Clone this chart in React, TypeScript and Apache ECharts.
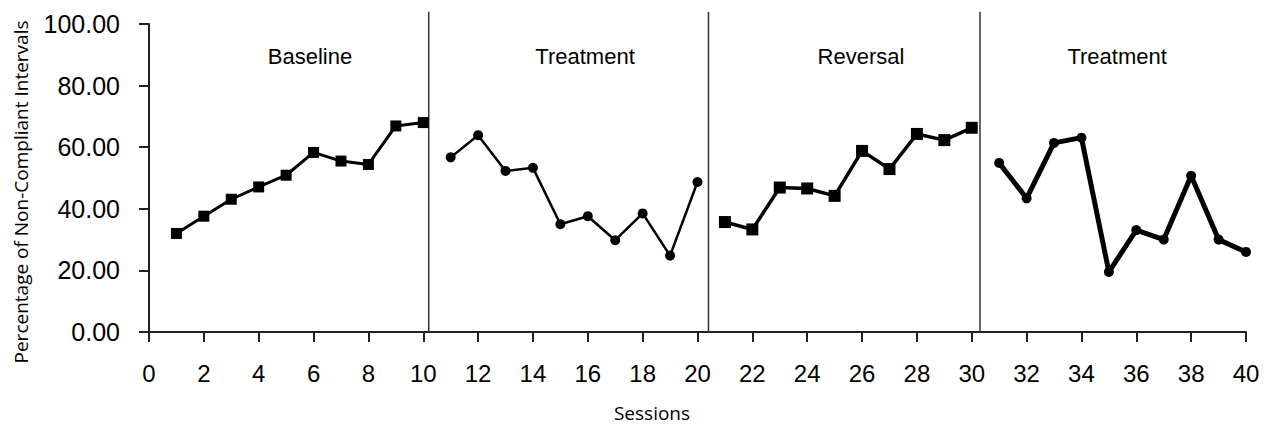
import React, { useEffect, useRef } from "react";
import * as echarts from "echarts";

const baselineSessions = [1, 2, 3, 4, 5, 6, 7, 8, 9, 10];
const baselineValues = [32.0, 37.6, 43.1, 47.1, 50.9, 58.3, 55.5, 54.4, 66.9, 68.0];
const treatment1Sessions = [11, 12, 13, 14, 15, 16, 17, 18, 19, 20];
const treatment1Values = [56.7, 63.9, 52.3, 53.3, 35.0, 37.6, 29.8, 38.5, 24.8, 48.7];
const reversalSessions = [21, 22, 23, 24, 25, 26, 27, 28, 29, 30];
const reversalValues = [35.7, 33.3, 46.9, 46.6, 44.2, 58.8, 52.9, 64.3, 62.3, 66.3];
const treatment2Sessions = [31, 32, 33, 34, 35, 36, 37, 38, 39, 40];
const treatment2Values = [54.9, 43.4, 61.4, 63.1, 19.5, 33.1, 30.0, 50.7, 30.0, 26.0];

const phaseChangeLines = [10.2, 20.4, 30.3];
const phaseNames = ["Baseline", "Treatment", "Reversal", "Treatment"];
const phaseLabelSessions = [5.87, 15.9, 25.96, 35.3];

const pairs = (xs: number[], ys: number[]) => xs.map((x, i) => [x, ys[i]]);

export default function App() {
  const ref = useRef<HTMLDivElement>(null);
  useEffect(() => {
    if (!ref.current) return;
    const chart = echarts.init(ref.current, null, { renderer: "svg" });
    const lineSeries = (data: number[][], symbol: string, symbolSize: number, width: number) => ({
      type: "line",
      data,
      symbol,
      symbolSize,
      showAllSymbol: true,
      lineStyle: { color: "#000", width },
      itemStyle: { color: "#000" },
      z: 3,
    });
    chart.setOption({
      animation: false,
      grid: { left: 149, right: 20, top: 24, bottom: 93 },
      xAxis: {
        type: "value",
        min: 0,
        max: 40,
        interval: 2,
        splitLine: { show: false },
        axisLine: { lineStyle: { color: "#222", width: 2 } },
        axisTick: { show: true, length: 10, lineStyle: { color: "#222", width: 2 } },
        axisLabel: { color: "#000", fontSize: 24, fontFamily: "Liberation Sans", margin: 29 },
      },
      yAxis: {
        type: "value",
        min: 0,
        max: 100,
        interval: 20,
        splitLine: { show: false },
        axisLine: { show: true, lineStyle: { color: "#222", width: 2 } },
        axisTick: { show: true, length: 10, lineStyle: { color: "#222", width: 2 } },
        axisLabel: {
          color: "#000",
          fontSize: 25,
          fontFamily: "Liberation Sans",
          margin: 29,
          formatter: (v: number) => v.toFixed(2),
        },
      },
      graphic: [
        {
          type: "text",
          x: 652,
          y: 413,
          style: {
            text: "Sessions",
            fill: "#000",
            font: "19px 'Open Sans'",
            textAlign: "center",
            textVerticalAlign: "middle",
          },
        },
        {
          type: "text",
          x: 21,
          y: 192,
          rotation: Math.PI / 2,
          style: {
            text: "Percentage of Non-Compliant Intervals",
            fill: "#000",
            font: "19px 'Open Sans'",
            textAlign: "center",
            textVerticalAlign: "middle",
          },
        },
      ],
      series: [
        lineSeries(pairs(baselineSessions, baselineValues), "rect", 11, 3),
        lineSeries(pairs(treatment1Sessions, treatment1Values), "circle", 10, 2.5),
        lineSeries(pairs(reversalSessions, reversalValues), "rect", 12, 3.5),
        lineSeries(pairs(treatment2Sessions, treatment2Values), "circle", 10, 5),
        {
          type: "custom",
          data: phaseChangeLines.map((x) => [x]),
          clip: false,
          renderItem: (params: any, api: any) => {
            const x = api.value(0);
            const top = api.coord([x, 104]);
            const bottom = api.coord([x, 0]);
            return {
              type: "line",
              shape: { x1: top[0], y1: top[1], x2: bottom[0], y2: bottom[1] },
              style: { stroke: "#333", lineWidth: 1.5 },
            };
          },
        },
        {
          type: "custom",
          data: phaseLabelSessions.map((x, i) => [x, 89.6, phaseNames[i]]),
          clip: false,
          renderItem: (params: any, api: any) => {
            const p = api.coord([api.value(0), api.value(1)]);
            return {
              type: "text",
              x: p[0],
              y: p[1],
              style: {
                text: phaseNames[params.dataIndex],
                fill: "#000",
                font: "22px 'Liberation Sans'",
                textAlign: "center",
                textVerticalAlign: "middle",
              },
            };
          },
        },
      ],
    });
    return () => chart.dispose();
  }, []);
  return (
    <div
      ref={ref}
      style={{ position: "fixed", left: 0, top: 0, width: 1266, height: 425, background: "#fff" }}
    />
  );
}
